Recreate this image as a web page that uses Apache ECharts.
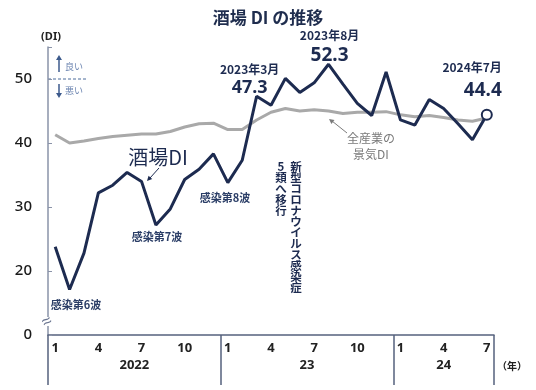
<!DOCTYPE html>
<html><head><meta charset="utf-8">
<script src="https://cdn.jsdelivr.net/npm/echarts@6/dist/echarts.min.js"></script>
<style>html,body{margin:0;padding:0;background:#fff}#c{width:536px;height:390px}</style>
</head><body><div id="c"></div>
<script>
// ---- data ----
const months = [1,2,3,4,5,6,7,8,9,10,11,12, 1,2,3,4,5,6,7,8,9,10,11,12, 1,2,3,4,5,6,7];
const yearLabels = ['2022', '23', '24'];
const yearFull = [2022, 2023, 2024];
const monthsPerYear = [12, 12, 7];
const sakabaDI = [23.8, 17.1, 22.8, 32.2, 33.4, 35.4, 34.0, 27.2, 29.7, 34.3, 35.9, 38.3,
                  33.8, 37.3, 47.3, 45.9, 50.1, 47.9, 49.4, 52.3, 49.2, 46.2, 44.3, 51.1,
                  43.6, 42.8, 46.8, 45.4, 43.0, 40.5, 44.4];
const allIndustryDI = [41.3, 40.0, 40.3, 40.7, 41.0, 41.2, 41.4, 41.4, 41.8, 42.5, 43.0, 43.1,
                       42.1, 42.1, 43.6, 44.8, 45.4, 45.0, 45.2, 45.0, 44.6, 44.8, 44.8, 44.9,
                       44.4, 44.1, 44.3, 44.0, 43.6, 43.4, 43.9];
const yTickValues = [10, 20, 30, 40, 50];
const yTickLabels = ['0', '20', '30', '40', '50'];
const monthLabelShown = [1, 4, 7, 10];
const highlightIdx = [14, 19, 30];

// ---- styles ----
const NAVY = '#1d2b50';
const GRAY = '#a9a9a9';
const AXIS = '#56627e';
const FONT = "'Noto Sans', 'Noto Sans CJK JP', sans-serif";
const JFONT = "'Noto Sans CJK JP', 'Noto Sans', sans-serif";
const labelStyle = {
  14: {offset: [-7, 2], align: 'center', a: 12, b: 18, la: 18, lb: 20},
  19: {offset: [1, 2], align: 'center', a: 12, b: 19, la: 18, lb: 22},
  30: {offset: [15, -6], align: 'right', a: 12, b: 19, la: 22, lb: 24}
};

// cumulative boundaries of years
const bounds = [0];
monthsPerYear.forEach(n => bounds.push(bounds[bounds.length - 1] + n));
const yearCenters = yearLabels.map((_, i) => (bounds[i] + bounds[i + 1]) / 2);
function yearOfIndex(i) { for (let k = 0; k < monthsPerYear.length; k++) if (i < bounds[k + 1]) return k; return 0; }

const navyData = sakabaDI.map((v, i) => {
  if (!highlightIdx.includes(i)) return v;
  const s = labelStyle[i];
  const last = i === sakabaDI.length - 1;
  return {
    value: v,
    symbol: 'circle',
    symbolSize: last ? 10 : 0,
    itemStyle: {color: '#fff', borderColor: NAVY, borderWidth: 2},
    label: {
      show: true, position: 'top', distance: 0, offset: s.offset, align: s.align,
      formatter: () => `{a|${yearFull[yearOfIndex(i)]}年${months[i]}月}\n{b|${v.toFixed(1)}}`,
      rich: {
        a: {fontSize: s.a, fontWeight: 'bold', color: NAVY, lineHeight: s.la, fontFamily: JFONT, align: s.align},
        b: {fontSize: s.b, fontWeight: 'bold', color: NAVY, lineHeight: s.lb, fontFamily: FONT, align: s.align}
      }
    }
  };
});

function arrowHead(tx, ty, fx, fy, len, w) {
  const dx = tx - fx, dy = ty - fy, L = Math.hypot(dx, dy);
  const ux = dx / L, uy = dy / L;
  const bx = tx - ux * len, by = ty - uy * len;
  const px = -uy * w, py = ux * w;
  return [[tx, ty], [bx + px, by + py], [bx - px, by - py]];
}

function vtext(str) { return str.split('').join('\n'); }

const chart = echarts.init(document.getElementById('c'));
chart.setOption({
  animation: false,
  textStyle: {fontFamily: FONT},
  title: {
    text: '酒場 DI の推移', left: 'center', top: 4,
    textStyle: {fontSize: 17, fontWeight: 'bold', color: '#1f2d4e', fontFamily: JFONT}
  },
  grid: {left: 48, right: 42, top: 47, bottom: 55, containLabel: false},
  xAxis: [{
    type: 'category', data: months, boundaryGap: true,
    axisLine: {show: true, lineStyle: {color: AXIS, width: 1.5}},
    axisTick: {show: false},
    axisLabel: {
      interval: (idx, val) => monthLabelShown.includes(months[idx]),
      margin: 7, fontSize: 13, fontWeight: 'bold', color: '#222'
    },
    splitLine: {show: false}
  }, {
    type: 'value', position: 'bottom', min: 0, max: months.length,
    axisLine: {show: false},
    axisTick: {show: true, customValues: bounds, length: 50, lineStyle: {color: AXIS, width: 1.5}},
    axisLabel: {
      show: true, customValues: yearCenters, margin: 24, fontSize: 13, fontWeight: 'bold', color: '#222',
      formatter: v => { const k = yearCenters.indexOf(v); return k >= 0 ? yearLabels[k] : ''; }
    },
    splitLine: {show: false}
  }],
  yAxis: {
    type: 'value', min: 10, max: 55, interval: 10,
    axisLine: {show: true, lineStyle: {color: '#8a93a8', width: 1.5}},
    axisTick: {show: true, inside: true, length: 4, lineStyle: {color: '#8a93a8'}},
    axisLabel: {
      margin: 16, fontSize: 15, fontWeight: 500, color: '#1a1a1a',
      formatter: v => { const k = yTickValues.indexOf(v); return k >= 0 ? yTickLabels[k] : ''; }
    },
    splitLine: {show: false}
  },
  series: [{
    type: 'line', data: allIndustryDI, xAxisIndex: 0, symbol: 'none',
    lineStyle: {color: GRAY, width: 3}, z: 2
  }, {
    type: 'line', data: navyData, xAxisIndex: 0, symbol: 'none', showSymbol: true, showAllSymbol: true,
    lineStyle: {color: NAVY, width: 3}, z: 3
  }],
  graphic: [
    {type: 'text', x: 51, y: 37, style: {text: '(DI)', fontSize: 11, fontWeight: 'bold', fill: '#222', align: 'center', verticalAlign: 'middle', fontFamily: FONT}},
    {type: 'line', shape: {x1: 48, y1: 79, x2: 88, y2: 79}, style: {stroke: '#4a6a9a', lineWidth: 1, lineDash: [3, 2]}},
    {type: 'line', shape: {x1: 59, y1: 72, x2: 59, y2: 59}, style: {stroke: '#3c5a8c', lineWidth: 1.5}},
    {type: 'polygon', shape: {points: arrowHead(59, 55, 59, 72, 5, 3)}, style: {fill: '#3c5a8c'}},
    {type: 'line', shape: {x1: 59, y1: 84, x2: 59, y2: 94}, style: {stroke: '#3c5a8c', lineWidth: 1.5}},
    {type: 'polygon', shape: {points: arrowHead(59, 98, 59, 84, 5, 3)}, style: {fill: '#3c5a8c'}},
    {type: 'text', x: 65, y: 67, style: {text: '良い', fontSize: 9, fill: '#6b84b0', verticalAlign: 'middle', fontFamily: JFONT}},
    {type: 'text', x: 65, y: 91, style: {text: '悪い', fontSize: 9, fill: '#6b84b0', verticalAlign: 'middle', fontFamily: JFONT}},
    {type: 'rect', shape: {x: 44, y: 317, width: 8, height: 9}, style: {fill: '#fff'}, z: 100},
    {type: 'text', x: 47, y: 322, rotation: 0.5, style: {text: '≈', fontSize: 17, fill: '#6a7590', align: 'center', verticalAlign: 'middle'}, z: 101},
    {type: 'text', x: 158, y: 157, style: {text: '酒場DI', fontSize: 20, fill: NAVY, align: 'center', verticalAlign: 'middle', fontFamily: JFONT}},
    {type: 'line', shape: {x1: 159, y1: 168, x2: 150, y2: 178}, style: {stroke: NAVY, lineWidth: 1}},
    {type: 'polygon', shape: {points: arrowHead(147, 181, 159, 168, 5, 2.5)}, style: {fill: NAVY}},
    {type: 'text', x: 76, y: 305, style: {text: '感染第6波', fontSize: 11, fontWeight: 'bold', fill: '#2a3d66', align: 'center', verticalAlign: 'middle', fontFamily: JFONT}},
    {type: 'text', x: 157, y: 237, style: {text: '感染第7波', fontSize: 11, fontWeight: 'bold', fill: '#2a3d66', align: 'center', verticalAlign: 'middle', fontFamily: JFONT}},
    {type: 'text', x: 225, y: 198, style: {text: '感染第8波', fontSize: 11, fontWeight: 'bold', fill: '#2a3d66', align: 'center', verticalAlign: 'middle', fontFamily: JFONT}},
    {type: 'text', x: 371, y: 138, style: {text: '全産業の', fontSize: 12, fill: '#7a7a7a', align: 'center', verticalAlign: 'middle', fontFamily: JFONT}},
    {type: 'text', x: 371, y: 154, style: {text: '景気DI', fontSize: 12, fill: '#7a7a7a', align: 'center', verticalAlign: 'middle', fontFamily: JFONT}},
    {type: 'line', shape: {x1: 347, y1: 133, x2: 332, y2: 121}, style: {stroke: '#7a7a7a', lineWidth: 1}},
    {type: 'polygon', shape: {points: arrowHead(329, 119, 347, 133, 5, 2.5)}, style: {fill: '#7a7a7a'}},
    {type: 'text', x: 296, y: 161, style: {text: vtext('新型コロナウイルス感染症'), fontSize: 11.5, lineHeight: 11, fontWeight: 'bold', fill: NAVY, align: 'center', verticalAlign: 'top', fontFamily: JFONT}},
    {type: 'text', x: 281, y: 161, style: {text: vtext('5類へ移行'), fontSize: 11.5, lineHeight: 11, fontWeight: 'bold', fill: NAVY, align: 'center', verticalAlign: 'top', fontFamily: JFONT}},
    {type: 'text', x: 512, y: 366, style: {text: '（年）', fontSize: 10, fontWeight: 'bold', fill: '#222', align: 'center', verticalAlign: 'middle', fontFamily: JFONT}}
  ]
});
</script>
</body></html>
